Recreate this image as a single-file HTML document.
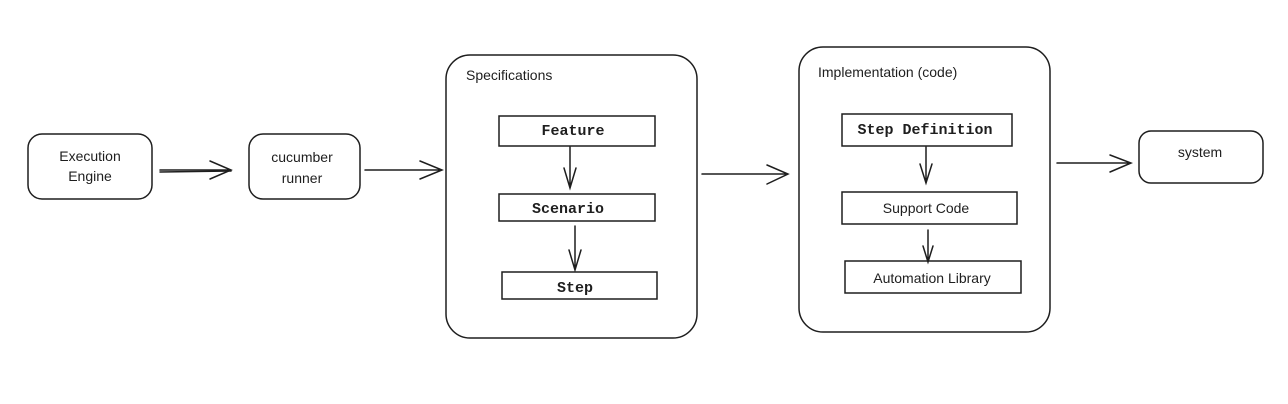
<!DOCTYPE html>
<html><head><meta charset="utf-8"><style>
html,body{margin:0;padding:0;background:#fff;width:1288px;height:404px;overflow:hidden}
svg{display:block}
.h{font-family:"Liberation Sans",sans-serif;font-size:14px;fill:#1e1e1e}
.m{font-family:"Liberation Mono",monospace;font-size:15px;fill:#1e1e1e;font-weight:bold}
</style></head><body>
<svg width="1288" height="404" viewBox="0 0 1288 404" xmlns="http://www.w3.org/2000/svg">
<g fill="none" stroke="#1e1e1e" stroke-width="1.5" stroke-linecap="round">
<rect x="28" y="134" width="124" height="65" rx="14"/>
<rect x="249" y="134" width="111" height="65" rx="14"/>
<rect x="446" y="55" width="251" height="283" rx="24"/>
<rect x="799" y="47" width="251" height="285" rx="24"/>
<rect x="1139" y="131" width="124" height="52" rx="12"/>
<rect x="499" y="116" width="156" height="30"/>
<rect x="499" y="194" width="156" height="27"/>
<rect x="502" y="272" width="155" height="27"/>
<rect x="842" y="114" width="170" height="32"/>
<rect x="842" y="192" width="175" height="32"/>
<rect x="845" y="261" width="176" height="32"/>
<!-- horizontal arrows -->
<path d="M160 170 L231 170 M210 161 L231 170 L210 179"/>
<path d="M160 172 L231 171"/>
<path d="M365 170 L442 170 M420 161 L442 170 L420 179"/>
<path d="M702 174 L788 174 M767 165 L788 174 L767 184"/>
<path d="M1057 163 L1131 163 M1110 155 L1131 163 L1110 172"/>
<!-- vertical arrows -->
<path d="M570 147 L570 188 M564 168 L570 188 L576 168"/>
<path d="M575 226 L575 270 M569 250 L575 270 L581 250"/>
<path d="M926 147 L926 183 M920 164 L926 183 L932 164"/>
<path d="M928 230 L928 262 M923 246 L928 262 L933 246"/>
</g>
<text class="h" x="90" y="161" text-anchor="middle">Execution</text>
<text class="h" x="90" y="181" text-anchor="middle">Engine</text>
<text class="h" x="302" y="162" text-anchor="middle">cucumber</text>
<text class="h" x="302" y="183" text-anchor="middle">runner</text>
<text class="h" x="466" y="80">Specifications</text>
<text class="h" x="818" y="77">Implementation (code)</text>
<text class="h" x="1200" y="157" text-anchor="middle">system</text>
<text class="m" x="573" y="135" text-anchor="middle">Feature</text>
<text class="m" x="568" y="213" text-anchor="middle">Scenario</text>
<text class="m" x="575" y="292" text-anchor="middle">Step</text>
<text class="m" x="925" y="134" text-anchor="middle">Step Definition</text>
<text class="h" x="926" y="213" text-anchor="middle">Support Code</text>
<text class="h" x="932" y="283" text-anchor="middle">Automation Library</text>
</svg>
</body></html>
